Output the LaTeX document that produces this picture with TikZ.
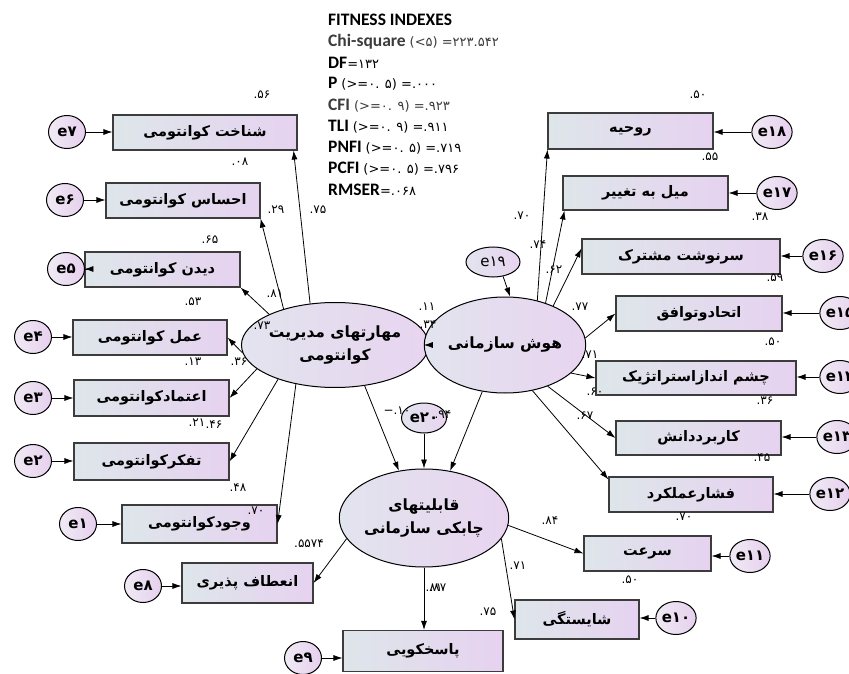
\documentclass[tikz,border=0pt]{standalone}
\usepackage{fontspec}
\usetikzlibrary{arrows.meta,shapes.geometric}
\TeXXeTstate=1
\newfontfamily\fa[Script=Arabic]{DejaVu Sans}
\newfontfamily\dv{DejaVu Sans}
\newfontfamily\lat{Carlito}
\newcommand\pers[1]{{\fa\bfseries\beginR #1\endR}}
\definecolor{boxL}{RGB}{222,230,234}
\definecolor{boxR}{RGB}{230,210,240}
\definecolor{latL}{RGB}{226,228,238}
\definecolor{latR}{RGB}{232,212,240}
\definecolor{errL}{RGB}{240,234,244}
\definecolor{errR}{RGB}{230,208,238}
\definecolor{edge}{RGB}{60,60,60}
\tikzset{
  obox/.style={rectangle, draw=edge, line width=1.1pt, left color=boxL, right color=boxR,
    inner sep=0pt, font=\fontsize{14.5}{17}\selectfont},
  latent/.style={ellipse, draw=black, line width=1pt, left color=latL, right color=latR,
    inner sep=0pt, align=center, font=\fontsize{15.5}{23}\selectfont},
  errc/.style={ellipse, draw=black, line width=1pt, left color=errL, right color=errR,
    minimum width=37pt, minimum height=33pt, inner sep=0pt,
    font=\dv\bfseries\fontsize{15}{17}\selectfont},
  arr/.style={-{Latex[length=9pt,width=6pt]}, line width=0.8pt},
  lbl/.style={inner sep=0pt, font=\dv\fontsize{12}{14}\selectfont},
  idx/.style={anchor=west, inner sep=0pt, font=\lat\bfseries\fontsize{17.5}{20}\selectfont}
}
\newcommand\ixr[1]{{\dv\mdseries\fontsize{13}{15}\selectfont #1}}
\begin{document}
\begin{tikzpicture}[x=1pt,y=-1pt]
\useasboundingbox[fill=white] (0,0) rectangle (849,674);

% fit indexes
\node[idx] (t0) at (328,20) {FITNESS INDEXES};
\node[idx,text={rgb,255:red,60;green,60;blue,60}] (t1) at (328,42) {Chi-square \ixr{(<۵) =۲۲۳.۵۴۲}};
\node[idx] (t2) at (328,63) {DF\ixr{=۱۳۲}};
\node[idx] (t3) at (328,84) {P \ixr{(>=۰. ۵) =.۰۰۰}};
\node[idx,text={rgb,255:red,60;green,60;blue,60}] (t4) at (328,106) {CFI \ixr{(>=۰. ۹) =.۹۲۳}};
\node[idx] (t5) at (328,127) {TLI \ixr{(>=۰. ۹) =.۹۱۱}};
\node[idx] (t6) at (328,148) {PNFI \ixr{(>=۰. ۵) =.۷۱۹}};
\node[idx] (t7) at (328,169) {PCFI \ixr{(>=۰. ۵) =.۷۹۶}};
\node[idx] (t8) at (328,190) {RMSER\ixr{=.۰۶۸}};

% latent variables
\node[latent, minimum width=126pt, minimum height=85pt] (M) at (335,345)
  {\pers{مهارتهای مدیریت}\\\pers{کوانتومی}};
\node[latent, minimum width=136pt, minimum height=96pt] (H) at (505,345) {\pers{هوش سازمانی}};
\node[latent, minimum width=146pt, minimum height=98pt] (Q) at (424,518)
  {\pers{قابلیتهای}\\\pers{چابکی سازمانی}};
\node[latent, minimum width=54pt, minimum height=30pt, font=\dv\fontsize{15}{17}\selectfont] (e19) at (493,262) {e۱۹};
\node[latent, minimum width=45pt, minimum height=30pt, font=\dv\bfseries\fontsize{15}{17}\selectfont] (e20) at (424,418) {e۲۰};

% observed variables, left
\node[obox, minimum width=184pt, minimum height=35pt] (b7) at (205,132.5) {\pers{شناخت کوانتومی}};
\node[obox, minimum width=154pt, minimum height=35pt] (b6) at (183,200.5) {\pers{احساس کوانتومی}};
\node[obox, minimum width=155pt, minimum height=35pt] (b5) at (162.5,269.5) {\pers{دیدن کوانتومی}};
\node[obox, minimum width=154pt, minimum height=35pt] (b4) at (150,337.5) {\pers{عمل کوانتومی}};
\node[obox, minimum width=155pt, minimum height=36pt] (b3) at (151.5,398) {\pers{اعتمادکوانتومی}};
\node[obox, minimum width=155pt, minimum height=37pt] (b2) at (151.5,461.5) {\pers{تفکرکوانتومی}};
\node[obox, minimum width=155pt, minimum height=38pt] (b1) at (199.5,524) {\pers{وجودکوانتومی}};
\node[obox, minimum width=131pt, minimum height=40pt] (b8) at (247.5,583) {\pers{انعطاف پذیری}};
\node[obox, minimum width=160pt, minimum height=41pt] (b9) at (423,651) {\pers{پاسخکویی}};

% observed variables, right
\node[obox, minimum width=165pt, minimum height=36pt] (b18) at (630.5,131) {\pers{روحیه}};
\node[obox, minimum width=165pt, minimum height=34pt] (b17) at (645.5,193) {\pers{میل به تغییر}};
\node[obox, minimum width=198pt, minimum height=35pt] (b16) at (681,256.5) {\pers{سرنوشت مشترک}};
\node[obox, minimum width=166pt, minimum height=35pt] (b15) at (699,313.5) {\pers{اتحادوتوافق}};
\node[obox, minimum width=200pt, minimum height=34pt] (b14) at (696,378) {\pers{چشم اندازاستراتژیک}};
\node[obox, minimum width=165pt, minimum height=34pt] (b13) at (698.5,438) {\pers{کاربرددانش}};
\node[obox, minimum width=164pt, minimum height=35pt] (b12) at (691,494.5) {\pers{فشارعملکرد}};
\node[obox, minimum width=127pt, minimum height=35pt] (b11) at (647.5,553.5) {\pers{سرعت}};
\node[obox, minimum width=124pt, minimum height=39pt] (b10) at (577,619.5) {\pers{شایستگی}};

% error terms
\node[errc] (e7) at (67,132) {e۷};
\node[errc] (e6) at (65,200) {e۶};
\node[errc] (e5) at (66,269) {e۵};
\node[errc] (e4) at (33,337) {e۴};
\node[errc] (e3) at (33,398) {e۳};
\node[errc] (e2) at (33,461) {e۲};
\node[errc] (e1) at (78,524) {e۱};
\node[errc] (e8) at (143,586) {e۸};
\node[errc] (e9) at (303,658) {e۹};
\node[errc] (e18) at (772,132) {e۱۸};
\node[errc] (e17) at (777,193) {e۱۷};
\node[errc] (e16) at (823,256) {e۱۶};
\node[errc] (e15) at (840,313) {e۱۵};
\node[errc] (e14) at (840,377) {e۱۴};
\node[errc] (e13) at (837,437) {e۱۳};
\node[errc] (e12) at (830,494) {e۱۲};
\node[errc] (e11) at (750,556) {e۱۱};
\node[errc] (e10) at (676,618) {e۱۰};

% error arrows
\foreach \e/\b in {e7/b7,e6/b6,e5/b5,e4/b4,e3/b3,e2/b2,e1/b1,e8/b8,e9/b9}
  \draw[arr] (\e) -- (\b.west |- \e);
\foreach \e/\b in {e18/b18,e17/b17,e16/b16,e15/b15,e14/b14,e13/b13,e12/b12,e11/b11,e10/b10}
  \draw[arr] (\e) -- (\b.east |- \e);

% loadings of the quantum management skills
\draw[arr] (M.121) -- ([xshift=-4pt]b7.south east);
\draw[arr] (M.145) -- (b6.south east);
\draw[arr] (M.155) -- (b5.south east);
\draw[arr] (M.185) -- (b4.east);
\draw[arr] (M.197) -- (b3.east);
\draw[arr] (M.211) -- (b2.east);
\draw[arr] (M.225) -- (b1.east);

% structural paths
\draw[arr] (M) -- (H);
\draw[arr] (M.306) -- (Q.118);
\draw[arr] (H.244) -- (Q.61);
\draw[arr] (e20) -- (Q);
\draw[arr] (e19.-55) -- (H.84);

% loadings of organisational intelligence
\draw[arr] (H.54) -- (b18.south west);
\draw[arr] (H.46) -- ([xshift=2pt]b17.south west);
\draw[arr] (H.39.5) -- ([yshift=8pt]b16.west);
\draw[arr] (H.5) -- (b15.west);
\draw[arr] (H.-23) -- (b14.west);
\draw[arr] (H.-44) -- (b13.west);
\draw[arr] (H.-59) -- ([yshift=-3pt]b12.north west);

% loadings of organisational agility
\draw[arr] (Q.195) -- (b8.east);
\draw[arr] (Q) -- (Q |- b9.north);
\draw[arr] (Q.-5.5) -- (b11.west);
\draw[arr] (Q.-15) -- (b10.west);

% estimates
\node[lbl] (n1) at (262,95) {.۵۶};
\node[lbl] (n2) at (240,162) {.۰۸};
\node[lbl] (n3) at (276,210) {.۲۹};
\node[lbl] (n4) at (318,210) {.۷۵};
\node[lbl] (n5) at (210,240) {.۶۵};
\node[lbl] (n6) at (275,294) {.۸۱};
\node[lbl] (n7) at (193,302) {.۵۳};
\node[lbl] (n8) at (262,326) {.۷۳};
\node[lbl] (n9) at (193,362) {.۱۳};
\node[lbl] (n10) at (239,362) {.۳۶};
\node[lbl] (n11) at (197,423) {.۲۱};
\node[lbl] (n12) at (214,425) {.۴۶};
\node[lbl] (n13) at (238,488) {.۴۸};
\node[lbl] (n14) at (256,511) {.۷۰};
\node[lbl] (n15) at (309,544) {.۵۵۷۴};
\node[lbl] (n16) at (434,588) {.۸۱};
\node[lbl] (n17) at (438,588) {.۸۷};
\node[lbl] (n18) at (488,612) {.۷۵};
\node[lbl] (n19) at (518,566) {.۷۱};
\node[lbl] (n20) at (550,521) {.۸۴};
\node[lbl] (n21) at (630,580) {.۵۰};
\node[lbl] (n22) at (684,517) {.۷۰};
\node[lbl] (n23) at (762,458) {.۴۵};
\node[lbl] (n24) at (585,416) {.۶۷};
\node[lbl] (n25) at (595,392) {.۶۰};
\node[lbl] (n26) at (590,355) {.۷۱};
\node[lbl] (n27) at (765,401) {.۳۶};
\node[lbl] (n28) at (773,342) {.۵۰};
\node[lbl] (n29) at (580,307) {.۷۷};
\node[lbl] (n30) at (775,278) {.۵۹};
\node[lbl] (n31) at (554,270) {.۶۲};
\node[lbl] (n32) at (538,245) {.۷۴};
\node[lbl] (n33) at (522,216) {.۷۰};
\node[lbl] (n34) at (760,217) {.۳۸};
\node[lbl] (n35) at (710,157) {.۵۵};
\node[lbl] (n36) at (698,95) {.۵۰};
\node[lbl] (n37) at (427,307) {.۱۱};
\node[lbl] (n38) at (428,325) {.۳۴};
\node[lbl] (n39) at (397,411) {−.۱۰};
\node[lbl] (n40) at (443,415) {.۹۴};
\end{tikzpicture}
\end{document}
